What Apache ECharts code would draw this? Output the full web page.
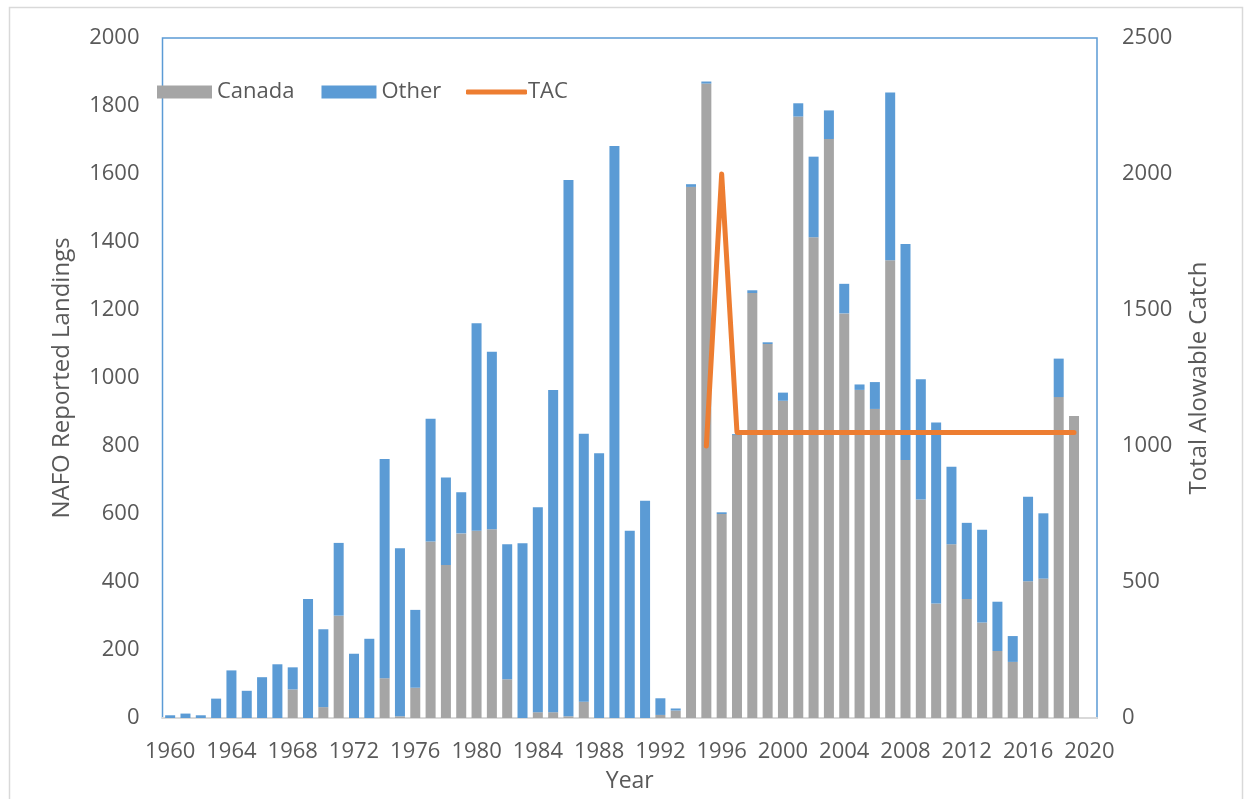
<!DOCTYPE html>
<html>
<head>
<meta charset="utf-8">
<script src="https://cdn.jsdelivr.net/npm/echarts@6/dist/echarts.min.js"></script>
<style>
html,body{margin:0;padding:0;background:#fff;}
#chart{width:1247px;height:799px;}
</style>
</head>
<body>
<div id="chart"></div>
<script>
var years = ['1960','1961','1962','1963','1964','1965','1966','1967','1968','1969',
  '1970','1971','1972','1973','1974','1975','1976','1977','1978','1979',
  '1980','1981','1982','1983','1984','1985','1986','1987','1988','1989',
  '1990','1991','1992','1993','1994','1995','1996','1997','1998','1999',
  '2000','2001','2002','2003','2004','2005','2006','2007','2008','2009',
  '2010','2011','2012','2013','2014','2015','2016','2017','2018','2019','2020'];

var canada = [0,0,0,0,0,0,0,0,84,0,
  32,301,0,0,117,5,89,519,450,543,
  551,555,114,0,17,17,5,48,0,0,
  0,0,9,22,1562,1866,600,832,1250,1100,
  933,1769,1414,1703,1190,965,909,1346,759,643,
  337,511,350,281,197,165,402,410,944,888,null];

var other = [8,13,8,57,140,80,120,158,65,350,
  229,214,189,233,645,494,229,361,257,121,
  610,522,397,514,603,948,1577,788,779,1682,
  551,639,49,6,8,6,5,3,8,5,
  24,39,237,84,87,16,79,494,635,353,
  532,228,224,273,145,76,249,192,113,0,null];

var tac = [null,null,null,null,null,null,null,null,null,null,
  null,null,null,null,null,null,null,null,null,null,
  null,null,null,null,null,null,null,null,null,null,
  null,null,null,null,null,1000,2000,1050,1050,1050,
  1050,1050,1050,1050,1050,1050,1050,1050,1050,1050,
  1050,1050,1050,1050,1050,1050,1050,1050,1050,1050,null];

var leftTicks = [0,200,400,600,800,1000,1200,1400,1600,1800,2000];
var rightTicks = [0,500,1000,1500,2000,2500];

var FONT = '"Open Sans", sans-serif';
var TXT = '#595959';

var chart = echarts.init(document.getElementById('chart'));
chart.setOption({
  animation: false,
  backgroundColor: '#ffffff',
  graphic: [{
    type: 'rect', left: 7, top: 5, z: -10,
    shape: {width: 1233, height: 800},
    style: {fill: 'none', stroke: '#D9D9D9', lineWidth: 1.5}
  }],
  grid: {
    left: 162.5, top: 38, width: 934.5, height: 680,
    outerBoundsMode: 'none',
    containLabel: false,
    show: true, borderColor: '#5B9BD5', borderWidth: 1.5, backgroundColor: 'transparent'
  },
  legend: [{
    data: ['Canada', 'Other'],
    left: 157, top: 81, padding: 0,
    itemWidth: 55, itemHeight: 13, itemGap: 27,
    icon: 'rect',
    textStyle: {fontSize: 22, color: TXT, fontFamily: FONT}
  }, {
    data: ['TAC'],
    left: 466, top: 81, padding: 0,
    itemWidth: 61, itemHeight: 5,
    icon: 'roundRect',
    textStyle: {fontSize: 22, color: TXT, fontFamily: FONT, padding: [0,0,0,-4]}
  }],
  xAxis: {
    type: 'category',
    data: years,
    boundaryGap: true,
    axisLine: {show: true, lineStyle: {color: '#D9D9D9', width: 2}},
    axisTick: {show: false},
    axisLabel: {interval: 3, fontSize: 22, color: TXT, fontFamily: FONT, margin: 23},
    name: 'Year',
    nameLocation: 'middle',
    nameGap: 52,
    nameTextStyle: {fontSize: 23, color: TXT, fontFamily: FONT}
  },
  yAxis: [{
    type: 'value', min: 0, max: 2000, interval: 200,
    axisLine: {show: false}, axisTick: {show: false},
    splitLine: {show: false},
    axisLabel: {fontSize: 22, color: TXT, fontFamily: FONT, margin: 23,
      formatter: function (v) { return leftTicks.indexOf(v) >= 0 ? String(v) : ''; }},
    name: 'NAFO Reported Landings',
    nameLocation: 'middle', nameRotate: 90, nameGap: 88,
    nameTextStyle: {fontSize: 24, color: TXT, fontFamily: FONT}
  }, {
    type: 'value', min: 0, max: 2500, interval: 500,
    position: 'right',
    axisLine: {show: false}, axisTick: {show: false},
    splitLine: {show: false},
    axisLabel: {fontSize: 22, color: TXT, fontFamily: FONT, margin: 25,
      formatter: function (v) { return rightTicks.indexOf(v) >= 0 ? String(v) : ''; }},
    name: 'Total Alowable Catch',
    nameLocation: 'middle', nameRotate: 90, nameGap: 90,
    nameTextStyle: {fontSize: 24, color: TXT, fontFamily: FONT}
  }],
  series: [{
    name: 'Canada', type: 'bar', stack: 'total', data: canada,
    barWidth: 10,
    itemStyle: {color: '#A5A5A5'}
  }, {
    name: 'Other', type: 'bar', stack: 'total', data: other,
    barWidth: 10,
    itemStyle: {color: '#5B9BD5'}
  }, {
    name: 'TAC', type: 'line', yAxisIndex: 1, data: tac,
    symbol: 'none', showSymbol: false,
    itemStyle: {color: '#ED7D31'},
    lineStyle: {color: '#ED7D31', width: 5, cap: 'round', join: 'round'},
    z: 5
  }]
});
</script>
</body>
</html>
